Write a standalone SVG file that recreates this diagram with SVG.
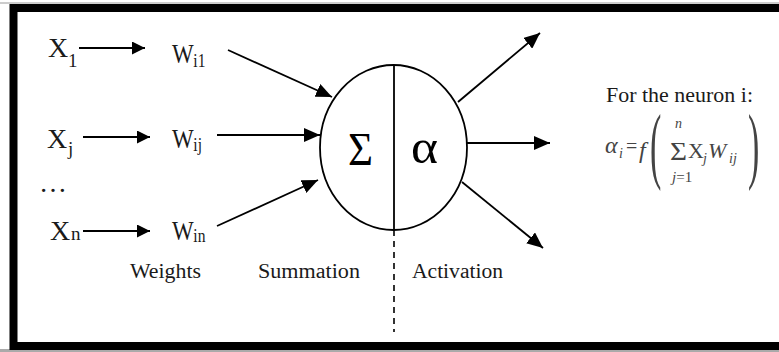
<svg xmlns="http://www.w3.org/2000/svg" width="779" height="352" viewBox="0 0 779 352">
<defs>
<style>
.t{fill:#1a1a1a}
.ln{stroke:#000;stroke-width:1.8;fill:none}
.f{fill:#444}
</style>
<marker id="sm" markerUnits="userSpaceOnUse" markerWidth="13" markerHeight="13" refX="13" refY="6.5" orient="auto"><path d="M0,0 L13,6.5 L0,13 z" fill="#000"/></marker>
<marker id="lg" markerUnits="userSpaceOnUse" markerWidth="16" markerHeight="14" refX="16" refY="7" orient="auto"><path d="M0,0 L16,7 L0,14 z" fill="#000"/></marker>
</defs>
<rect x="0" y="0" width="779" height="352" fill="#fff"/>
<rect x="0" y="349" width="779" height="3" fill="#aaa"/>
<rect x="0" y="2" width="779" height="2" fill="#ccc"/>
<rect x="13.5" y="8" width="800" height="338" fill="none" stroke="#000" stroke-width="8"/>

<g id="connectors">
<line class="ln" x1="79" y1="48" x2="145" y2="48" marker-end="url(#sm)"/>
<line class="ln" x1="83" y1="137" x2="150" y2="137" marker-end="url(#sm)"/>
<line class="ln" x1="83" y1="231" x2="150" y2="231" marker-end="url(#sm)"/>
<line class="ln" x1="228" y1="50" x2="332" y2="97" marker-end="url(#lg)"/>
<line class="ln" x1="217" y1="135" x2="320" y2="135" marker-end="url(#lg)"/>
<line class="ln" x1="217" y1="226" x2="318" y2="180" marker-end="url(#lg)"/>
<line class="ln" x1="458" y1="102" x2="540" y2="33" marker-end="url(#lg)"/>
<line class="ln" x1="467" y1="143" x2="550" y2="143" marker-end="url(#lg)"/>
<line class="ln" x1="462" y1="182" x2="543" y2="248" marker-end="url(#lg)"/>
<line x1="394" y1="230" x2="394" y2="332" stroke="#000" stroke-width="1.6" stroke-dasharray="6,5"/>
</g>

<g font-family="'Liberation Serif', 'Times New Roman', serif">
<g id="x1"><text class="t" font-size="28"><tspan x="48" y="57">X</tspan><tspan x="68" y="67" font-size="19">1</tspan></text></g>
<g id="xj"><text class="t" font-size="28"><tspan x="47" y="148">X</tspan><tspan x="68" y="155" font-size="19">j</tspan></text></g>
<g id="dots"><text class="t" x="39" y="192" font-size="28">…</text></g>
<g id="xn"><text class="t" font-size="28"><tspan x="50" y="240">X</tspan><tspan x="71" y="240" font-size="19">n</tspan></text></g>

<g id="wi1"><text class="t" font-size="28" transform="translate(172,63) scale(0.82,1)"><tspan x="0" y="0">W</tspan><tspan x="26" y="4" font-size="19">i1</tspan></text></g>
<g id="wij"><text class="t" font-size="28" transform="translate(172,148) scale(0.82,1)"><tspan x="0" y="0">W</tspan><tspan x="26" y="3" font-size="19">ij</tspan></text></g>
<g id="win"><text class="t" font-size="28" transform="translate(172,240) scale(0.82,1)"><tspan x="0" y="0">W</tspan><tspan x="26" y="2" font-size="19">in</tspan></text></g>

<g id="neuron">
<ellipse cx="393.5" cy="147.5" rx="73.5" ry="82.5" fill="#fff" stroke="#000" stroke-width="1.8"/>
<line x1="394" y1="65" x2="394" y2="230" stroke="#000" stroke-width="1.8"/>
<text x="348" y="165" font-size="46" textLength="25" lengthAdjust="spacingAndGlyphs" fill="#000">Σ</text>
<text x="411" y="163" font-size="48" textLength="27" lengthAdjust="spacingAndGlyphs" fill="#000">α</text>
</g>

<g id="labels">
<text class="t" x="130" y="278" font-size="20" textLength="71" lengthAdjust="spacingAndGlyphs">Weights</text>
<text class="t" x="258" y="278" font-size="20" textLength="102" lengthAdjust="spacingAndGlyphs">Summation</text>
<text class="t" x="412" y="278" font-size="20" textLength="91" lengthAdjust="spacingAndGlyphs">Activation</text>
</g>

<g id="formula">
<text class="t" x="606" y="102" font-size="20" textLength="147" lengthAdjust="spacingAndGlyphs">For the neuron i:</text>
<text class="f" font-size="24" font-style="italic"><tspan x="605" y="153">α</tspan><tspan x="619" y="158" font-size="14">i</tspan></text>
<text class="f" x="626" y="153" font-size="20">=</text>
<text class="f" x="639" y="158" font-size="24" font-style="italic">f</text>
<text class="f" transform="scale(0.4,1)" x="1625" y="173" font-size="85">(</text>
<text class="f" transform="scale(0.4,1)" x="1870" y="173" font-size="85">)</text>
<text class="f" x="675" y="128" font-size="14" font-style="italic">n</text>
<text class="f" x="670" y="160" font-size="26" textLength="17" lengthAdjust="spacingAndGlyphs">Σ</text>
<text class="f" x="672" y="182" font-size="15"><tspan font-style="italic">j</tspan>=1</text>
<text class="f" font-size="22"><tspan x="688" y="158">X</tspan><tspan x="703" y="163" font-size="14" font-style="italic">j</tspan><tspan x="708" y="158" font-style="italic">W</tspan><tspan x="729" y="163" font-size="14" font-style="italic">ij</tspan></text>
</g>
</g>
</svg>
